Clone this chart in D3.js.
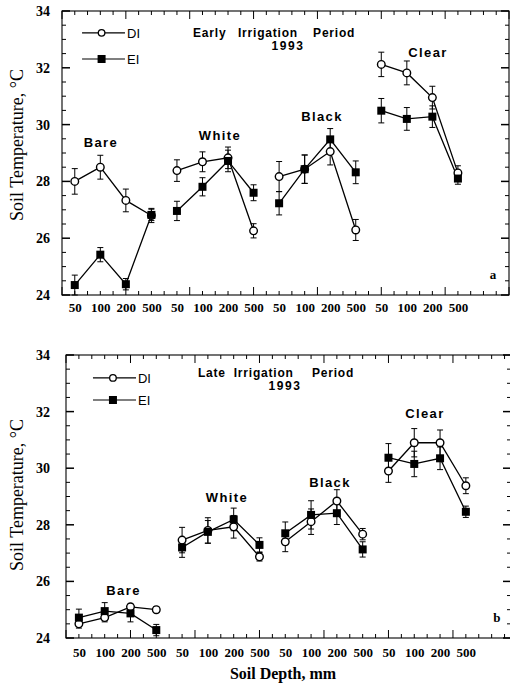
<!DOCTYPE html>
<html>
<head>
<meta charset="utf-8">
<script src="https://cdn.jsdelivr.net/npm/d3@7"></script>
<style>
  html, body { margin: 0; padding: 0; background: #fff; }
  svg { display: block; }
</style>
</head>
<body>
<div id="chart"></div>
<script>
// ---------------- DATA ----------------
const mulches = ["Bare", "White", "Black", "Clear"];
const depths = ["50", "100", "200", "500"];
const yTicks = [24, 26, 28, 30, 32, 34];

// Early irrigation period (panel a), order: Bare 50..500, White, Black, Clear
const earlyDI    = [28.0, 28.5, 27.33, 26.8,  28.38, 28.69, 28.83, 26.26,  28.17, 28.43, 29.05, 26.29,  32.12, 31.82, 30.95, 28.3];
const earlyDIerr = [0.45, 0.42, 0.40, 0.25,   0.38, 0.35, 0.38, 0.25,      0.53, 0.50, 0.47, 0.37,      0.43, 0.42, 0.40, 0.25];
const earlyEI    = [24.35, 25.42, 24.38, 26.82, 26.96, 27.81, 28.72, 27.6,  27.23, 28.43, 29.48, 28.32,  30.49, 30.2, 30.28, 28.1];
const earlyEIerr = [0.35, 0.25, 0.20, 0.20,   0.34, 0.32, 0.38, 0.28,      0.41, 0.50, 0.38, 0.40,      0.43, 0.40, 0.38, 0.20];

// Late irrigation period (panel b)
const lateDI    = [24.5, 24.72, 25.1, 25.0,   27.46, 27.8, 27.93, 26.87,  27.4, 28.11, 28.84, 27.67,  29.9, 30.9, 30.9, 29.38];
const lateDIerr = [0.15, 0.15, 0.10, 0.10,    0.45, 0.45, 0.40, 0.15,     0.35, 0.45, 0.40, 0.20,     0.40, 0.50, 0.45, 0.28];
const lateEI    = [24.72, 24.95, 24.87, 24.28, 27.2, 27.75, 28.19, 27.29,  27.7, 28.35, 28.41, 27.13,  30.37, 30.15, 30.35, 28.46];
const lateEIerr = [0.30, 0.30, 0.30, 0.20,    0.35, 0.40, 0.40, 0.25,     0.40, 0.50, 0.40, 0.27,     0.50, 0.45, 0.40, 0.20];

// ---------------- LAYOUT ----------------
const W = 510, H = 685;
const svg = d3.select("#chart").append("svg").attr("width", W).attr("height", H);

const SERIF = "'Liberation Serif', 'Times New Roman', serif";
const SANS = "'Liberation Sans', Arial, Helvetica, sans-serif";

const panels = [
  {
    id: "a", di: earlyDI, diErr: earlyDIerr, ei: earlyEI, eiErr: earlyEIerr,
    xRange: [62, 509], xDomain: [0, 35], yRange: [295, 11], labelPad: 12, xLabelPad: 8,
    title: [["Early", 10.26], ["Irrigation", 13.78], ["Period", 19.66]], titleV: 33.08,
    year: [17.7, 32.63],
    groupLabels: [[3.05, 29.21], [12.37, 29.46], [20.36, 30.13], [28.66, 32.38]],
    legend: { u0: 1.57, u1: 4.93, um: 3.1, ut: 5.09, vDI: 33.23, vEI: 32.31 },
    letter: [33.75, 24.56],
    yTitleCenter: 145
  },
  {
    id: "b", di: lateDI, diErr: lateDIerr, ei: lateEI, eiErr: lateEIerr,
    xRange: [66, 511], xDomain: [0, 34.5], yRange: [638, 355], labelPad: 16, xLabelPad: 10,
    title: [["Late", 10.23], ["Irrigation", 13.0], ["Period", 19.07]], titleV: 33.22,
    year: [16.98, 32.76],
    groupLabels: [[4.46, 25.52], [12.48, 28.81], [20.47, 29.34], [27.83, 31.77]],
    legend: { u0: 2.09, u1: 5.43, um: 3.64, ut: 5.58, vDI: 33.19, vEI: 32.41 },
    letter: [33.4, 24.57],
    yTitleCenter: 495
  }
];

// x position (in minor-tick units) of point i: 1,3,5,...,31
const xPos = i => 1 + 2 * i;

panels.forEach(p => {
  const x = d3.scaleLinear().domain(p.xDomain).range(p.xRange);
  const y = d3.scaleLinear().domain([24, 34]).range(p.yRange);
  const g = svg.append("g");
  const [x0, x1] = p.xRange;
  const [yb, yt] = p.yRange;

  // frame
  g.append("rect").attr("x", x0).attr("y", yt).attr("width", x1 - x0).attr("height", yb - yt)
    .attr("fill", "none").attr("stroke", "#000").attr("stroke-width", 1.1);

  // x ticks (inward, bottom and top)
  const xt = d3.range(0, Math.floor(p.xDomain[1]) + 1);
  xt.forEach(t => {
    const len = (t % 5 === 0) ? 8 : 4;
    g.append("line").attr("x1", x(t)).attr("x2", x(t)).attr("y1", yb).attr("y2", yb - len)
      .attr("stroke", "#000").attr("stroke-width", 1);
    g.append("line").attr("x1", x(t)).attr("x2", x(t)).attr("y1", yt).attr("y2", yt + len)
      .attr("stroke", "#000").attr("stroke-width", 1);
  });
  // y ticks (inward, left and right)
  const ytk = d3.range(24, 34.01, 0.5);
  ytk.forEach(t => {
    const major = Math.abs(t % 2) < 1e-6;
    const len = major ? 8 : 4;
    g.append("line").attr("x1", x0).attr("x2", x0 + len).attr("y1", y(t)).attr("y2", y(t))
      .attr("stroke", "#000").attr("stroke-width", major ? 1.5 : 1);
    g.append("line").attr("x1", x1).attr("x2", x1 - len).attr("y1", y(t)).attr("y2", y(t))
      .attr("stroke", "#000").attr("stroke-width", major ? 1.5 : 1);
  });

  // y axis labels
  const ya = d3.axisLeft(y).tickValues(yTicks).tickSize(0).tickPadding(p.labelPad).tickFormat(d3.format("d"));
  const yg = g.append("g").attr("transform", `translate(${x0},0)`).call(ya);
  yg.select(".domain").remove();
  yg.selectAll("text").attr("font-family", SERIF).attr("font-weight", "bold").attr("font-size", 14).attr("fill", "#000");

  // x axis labels
  const xVals = d3.range(16).map(xPos);
  const xa = d3.axisBottom(x).tickValues(xVals).tickSize(0).tickPadding(p.xLabelPad)
    .tickFormat((d, i) => depths[i % 4]);
  const xg = g.append("g").attr("transform", `translate(0,${yb})`).call(xa);
  xg.select(".domain").remove();
  xg.selectAll("text").attr("font-family", SERIF).attr("font-weight", "bold").attr("font-size", 13).attr("fill", "#000");

  // series
  const series = [
    { vals: p.di, err: p.diErr, type: "DI" },
    { vals: p.ei, err: p.eiErr, type: "EI" }
  ];
  const line = d3.line().x(d => x(d.u)).y(d => y(d.v));

  series.forEach(s => {
    mulches.forEach((m, gi) => {
      const pts = d3.range(4).map(k => ({ u: xPos(gi * 4 + k), v: s.vals[gi * 4 + k] }));
      g.append("path").attr("d", line(pts)).attr("fill", "none").attr("stroke", "#000").attr("stroke-width", 1.3);
    });
  });
  series.forEach(s => {
    s.vals.forEach((v, i) => {
      const cx = x(xPos(i));
      const e = s.err[i];
      g.append("line").attr("x1", cx).attr("x2", cx).attr("y1", y(v - e)).attr("y2", y(v + e))
        .attr("stroke", "#000").attr("stroke-width", 1);
      [v - e, v + e].forEach(c => {
        g.append("line").attr("x1", cx - 3).attr("x2", cx + 3).attr("y1", y(c)).attr("y2", y(c))
          .attr("stroke", "#000").attr("stroke-width", 1);
      });
    });
  });
  // markers: DI circles first, then EI squares
  p.di.forEach((v, i) => {
    g.append("circle").attr("cx", x(xPos(i))).attr("cy", y(v)).attr("r", 3.8)
      .attr("fill", "#fff").attr("stroke", "#000").attr("stroke-width", 1.4);
  });
  p.ei.forEach((v, i) => {
    g.append("rect").attr("x", x(xPos(i)) - 4).attr("y", y(v) - 4).attr("width", 8).attr("height", 8)
      .attr("fill", "#000");
  });

  // group labels
  mulches.forEach((m, gi) => {
    const [u, v] = p.groupLabels[gi];
    g.append("text").attr("x", x(u)).attr("y", y(v)).attr("text-anchor", "middle")
      .attr("font-family", SANS).attr("font-weight", "bold").attr("font-size", 13)
      .attr("letter-spacing", 1.4).attr("fill", "#000").text(m);
  });

  // title
  p.title.forEach(([w, u]) => {
    g.append("text").attr("x", x(u)).attr("y", y(p.titleV))
      .attr("font-family", SANS).attr("font-weight", "bold").attr("font-size", 12)
      .attr("letter-spacing", 0.8).attr("fill", "#000").text(w);
  });
  g.append("text").attr("x", x(p.year[0])).attr("y", y(p.year[1])).attr("text-anchor", "middle")
    .attr("font-family", SANS).attr("font-weight", "bold").attr("font-size", 12)
    .attr("letter-spacing", 1.6).attr("fill", "#000").text("1993");

  // legend
  const L = p.legend;
  [["DI", L.vDI], ["EI", L.vEI]].forEach(([name, v]) => {
    g.append("line").attr("x1", x(L.u0)).attr("x2", x(L.u1)).attr("y1", y(v)).attr("y2", y(v))
      .attr("stroke", "#000").attr("stroke-width", 1.2);
    if (name === "DI") {
      g.append("circle").attr("cx", x(L.um)).attr("cy", y(v)).attr("r", 3.3)
        .attr("fill", "#fff").attr("stroke", "#000").attr("stroke-width", 1.3);
    } else {
      g.append("rect").attr("x", x(L.um) - 4).attr("y", y(v) - 4).attr("width", 8).attr("height", 8).attr("fill", "#000");
    }
    g.append("text").attr("x", x(L.ut)).attr("y", y(v)).attr("dy", "0.36em")
      .attr("font-family", SANS).attr("font-size", 13).attr("fill", "#000").text(name);
  });

  // panel letter
  g.append("text").attr("x", x(p.letter[0])).attr("y", y(p.letter[1])).attr("text-anchor", "middle")
    .attr("font-family", SERIF).attr("font-weight", "bold").attr("font-size", 13).attr("fill", "#000").text(p.id);

  // y title
  g.append("text").attr("transform", `translate(23,${p.yTitleCenter}) rotate(-90)`)
    .attr("text-anchor", "middle").attr("font-family", SERIF).attr("font-size", 18).attr("fill", "#000")
    .text("Soil Temperature, \u00B0C");
});

// x title
svg.append("text").attr("x", 283).attr("y", 679).attr("text-anchor", "middle")
  .attr("font-family", SERIF).attr("font-weight", "bold").attr("font-size", 16).attr("fill", "#000")
  .text("Soil Depth, mm");
</script>
</body>
</html>
